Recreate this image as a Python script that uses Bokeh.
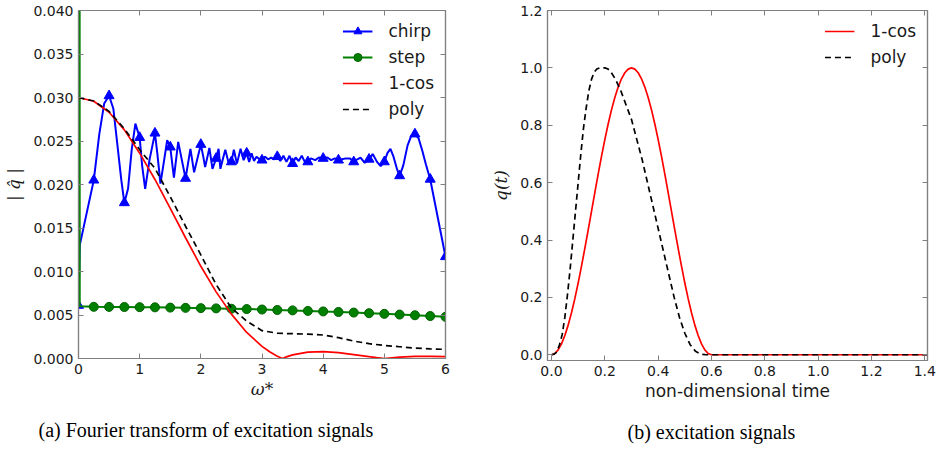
from bokeh.plotting import figure
from bokeh.layouts import row
from bokeh.models import (Range1d, LinearAxis, FixedTicker, NumeralTickFormatter,
                          Legend, LegendItem, Title, ColumnDataSource, CustomJSTickFormatter)
from bokeh.embed import file_html
from bokeh.resources import INLINE

# ---------------- data: (a) Fourier transform of excitation signals ----------------
chirp_w = [0.00, 0.02, 0.25, 0.34, 0.42, 0.50, 0.57, 0.64, 0.70, 0.75, 0.81, 0.87, 0.93,
           1.00, 1.04, 1.09, 1.16, 1.25, 1.29, 1.34, 1.40, 1.45, 1.50, 1.56, 1.63, 1.69,
           1.75, 1.83, 1.89, 2.00, 2.04, 2.07, 2.14, 2.19, 2.25, 2.29, 2.32, 2.37, 2.40,
           2.45, 2.50, 2.54, 2.59, 2.65, 2.70, 2.75, 2.79, 2.83, 2.87, 2.91, 2.96, 3.00,
           3.05, 3.10, 3.15, 3.20, 3.25, 3.30, 3.35, 3.40, 3.45, 3.50, 3.55, 3.60, 3.65,
           3.70, 3.75, 3.80, 3.87, 3.93, 4.00, 4.07, 4.13, 4.19, 4.25, 4.31, 4.37, 4.44,
           4.50, 4.56, 4.61, 4.68, 4.75, 4.81, 4.88, 4.94, 5.00, 5.05, 5.10, 5.15, 5.21,
           5.25, 5.31, 5.38, 5.44, 5.50, 5.56, 5.62, 5.68, 5.75, 6.00]
chirp_v = [0.0061, 0.0130, 0.0205, 0.0258, 0.0293, 0.0302, 0.0287, 0.0243, 0.0205, 0.0179,
           0.0195, 0.0240, 0.0270, 0.0254, 0.0222, 0.0195, 0.0228, 0.0259, 0.0235, 0.0201,
           0.0228, 0.0251, 0.0243, 0.0208, 0.0249, 0.0228, 0.0207, 0.0241, 0.0214, 0.0246,
           0.0232, 0.0220, 0.0242, 0.0218, 0.0230, 0.0241, 0.0218, 0.0232, 0.0240, 0.0226,
           0.0226, 0.0240, 0.0224, 0.0241, 0.0228, 0.0236, 0.0226, 0.0236, 0.0227, 0.0232,
           0.0229, 0.0228, 0.0232, 0.0229, 0.0231, 0.0229, 0.0232, 0.0227, 0.0233, 0.0226,
           0.0233, 0.0224, 0.0231, 0.0227, 0.0233, 0.0226, 0.0226, 0.0230, 0.0228, 0.0231,
           0.0230, 0.0231, 0.0228, 0.0230, 0.0228, 0.0229, 0.0230, 0.0230, 0.0226, 0.0229,
           0.0231, 0.0225, 0.0229, 0.0235, 0.0226, 0.0221, 0.0226, 0.0236, 0.0241, 0.0232,
           0.0217, 0.0210, 0.0222, 0.0245, 0.0256, 0.0258, 0.0253, 0.0239, 0.0223, 0.0206,
           0.0117]

step_w = [0.0, 0.02, 0.25, 0.50, 0.75, 1.00, 1.25, 1.50, 1.75, 2.00, 2.25, 2.50, 2.75, 3.00,
          3.25, 3.50, 3.75, 4.00, 4.25, 4.50, 4.75, 5.00, 5.25, 5.50, 5.75, 6.00]
step_v = [0.5, 0.00600, 0.00594, 0.00593, 0.00592, 0.00590, 0.00588, 0.00585, 0.00582,
          0.00579, 0.00576, 0.00572, 0.00568, 0.00563, 0.00558, 0.00553, 0.00547, 0.00541,
          0.00535, 0.00528, 0.00521, 0.00513, 0.00505, 0.00497, 0.00488, 0.00479]

cos_w = [0.0, 0.25, 0.5, 0.75, 1.0, 1.25, 1.5, 1.75, 2.0, 2.25, 2.5, 2.75, 3.0, 3.125, 3.25,
         3.333, 3.4, 3.5, 3.75, 4.0, 4.25, 4.5, 4.75, 4.875, 5.0, 5.125, 5.25, 5.5, 5.75, 6.0]
cos_v = [0.0300, 0.02957, 0.0283, 0.02628, 0.0236, 0.02058, 0.01726, 0.01388, 0.0106,
         0.00766, 0.0051, 0.00299, 0.00139, 0.00077, 0.00027, 0.0, 0.000185, 0.00041,
         0.00074, 0.00079, 0.00067, 0.00045, 0.00021, 0.0001, 0.0, 0.000086, 0.000154,
         0.00024, 0.00025, 0.00021]

poly_w = [0.0, 0.25, 0.5, 0.75, 1.0, 1.25, 1.5, 1.75, 2.0, 2.25, 2.5, 2.75, 3.0, 3.25, 3.5,
          3.75, 4.0, 4.25, 4.5, 4.75, 5.0, 5.25, 5.5, 5.75, 6.0]
poly_v = [0.0300, 0.0296, 0.0284, 0.0264, 0.0240, 0.02185, 0.0186, 0.0152, 0.0119, 0.0085,
          0.0058, 0.0043, 0.0032, 0.0029, 0.00285, 0.0028, 0.0027, 0.0024, 0.0020, 0.0017,
          0.0015, 0.00135, 0.0012, 0.0011, 0.00105]

# ---------------- data: (b) excitation signals ----------------
t_cos = [0.0, 0.0125, 0.025, 0.0375, 0.05, 0.0625, 0.075, 0.0875, 0.1, 0.1125, 0.125,
         0.1375, 0.15, 0.1625, 0.175, 0.1875, 0.2, 0.2125, 0.225, 0.2375, 0.25, 0.2625,
         0.275, 0.2875, 0.3, 0.3125, 0.325, 0.3375, 0.35, 0.3625, 0.375, 0.3875, 0.4,
         0.4125, 0.425, 0.4375, 0.45, 0.4625, 0.475, 0.4875, 0.5, 0.5125, 0.525, 0.5375,
         0.55, 0.5625, 0.575, 0.5875, 0.6, 1.41]
q_cos = [0.0, 0.0043, 0.0170, 0.0381, 0.0670, 0.1033, 0.1465, 0.1956, 0.25, 0.3087, 0.3706,
         0.4347, 0.5, 0.5653, 0.6294, 0.6913, 0.75, 0.8044, 0.8536, 0.8967, 0.9330, 0.9619,
         0.9830, 0.9957, 1.0, 0.9957, 0.9830, 0.9619, 0.9330, 0.8967, 0.8536, 0.8044, 0.75,
         0.6913, 0.6294, 0.5653, 0.5, 0.4347, 0.3706, 0.3087, 0.25, 0.1956, 0.1465, 0.1033,
         0.0670, 0.0381, 0.0170, 0.0043, 0.0, 0.0]

t_poly = [0.0, 0.01, 0.02, 0.03, 0.04, 0.05, 0.06, 0.07, 0.08, 0.09, 0.10, 0.11, 0.12, 0.13,
          0.14, 0.15, 0.16, 0.17, 0.18, 0.19, 0.20, 0.21, 0.22, 0.24, 0.26, 0.28, 0.30, 0.32,
          0.34, 0.36, 0.38, 0.40, 0.42, 0.44, 0.46, 0.48, 0.50, 0.52, 0.54, 0.56, 0.58, 1.41]
q_poly = [0.0, 0.002, 0.01, 0.035, 0.07, 0.13, 0.21, 0.30, 0.40, 0.50, 0.60, 0.70, 0.79,
          0.86, 0.92, 0.96, 0.985, 0.996, 1.0, 1.0, 1.0, 0.997, 0.99, 0.96, 0.92, 0.87, 0.82,
          0.75, 0.68, 0.60, 0.52, 0.44, 0.36, 0.28, 0.20, 0.13, 0.075, 0.035, 0.012, 0.002,
          0.0, 0.0]

# tick positions / labels
a_xticks = [0, 1, 2, 3, 4, 5, 6]
a_yticks = [0.0, 0.005, 0.010, 0.015, 0.020, 0.025, 0.030, 0.035, 0.040]
b_xticks = [0.0, 0.2, 0.4, 0.6, 0.8, 1.0, 1.2, 1.4]
b_yticks = [0.0, 0.2, 0.4, 0.6, 0.8, 1.0, 1.2]

FRAME = "#808080"
TXT = "#1a1a1a"


def add_axes(p, xticks, yticks, xfmt, yfmt, xlabel, ylabel):
    common = dict(axis_line_color=FRAME, axis_line_width=1.2,
                  major_tick_line_color=FRAME, major_tick_in=5, major_tick_out=0,
                  minor_tick_line_color=None)
    lab = dict(major_label_text_font="DejaVu Sans", major_label_text_font_size="14px",
               major_label_text_color=TXT)
    xb = LinearAxis(ticker=FixedTicker(ticks=xticks), formatter=NumeralTickFormatter(format=xfmt),
                    axis_label=xlabel[0], axis_label_text_font=xlabel[1],
                    axis_label_text_font_style=xlabel[2], axis_label_text_font_size="17px",
                    axis_label_text_color=TXT, major_label_standoff=5, axis_label_standoff=2,
                    **common, **lab)
    yl = LinearAxis(ticker=FixedTicker(ticks=yticks), formatter=NumeralTickFormatter(format=yfmt),
                    axis_label=ylabel[0], axis_label_text_font=ylabel[1],
                    axis_label_text_font_style=ylabel[2], axis_label_text_font_size="17px",
                    axis_label_text_color=TXT, major_label_standoff=5, axis_label_standoff=6,
                    **common, **lab)
    blank = CustomJSTickFormatter(code="return ''")
    xt = LinearAxis(ticker=FixedTicker(ticks=xticks), formatter=blank, major_label_standoff=0,
                    major_label_text_font_size="1px", **common)
    yr = LinearAxis(ticker=FixedTicker(ticks=yticks), formatter=blank, major_label_standoff=0,
                    major_label_text_font_size="1px", **common)
    p.add_layout(xb, "below")
    p.add_layout(yl, "left")
    p.add_layout(xt, "above")
    p.add_layout(yr, "right")


def base(xr, yr, fw, fh, mbl, mbr, mbb):
    p = figure(x_range=Range1d(*xr), y_range=Range1d(*yr), frame_width=fw, frame_height=fh,
               min_border_left=mbl, min_border_right=mbr, min_border_top=10,
               min_border_bottom=mbb, output_backend="svg", toolbar_location=None,
               x_axis_type=None, y_axis_type=None)
    p.xgrid.visible = False
    p.ygrid.visible = False
    p.outline_line_color = FRAME
    p.outline_line_width = 1.2
    p.background_fill_color = "white"
    p.border_fill_color = "white"
    return p


def legend(items, pad):
    return Legend(items=items, location="top_right", border_line_color=None,
                  background_fill_alpha=0, label_text_font="DejaVu Sans",
                  label_text_font_size="17px", label_text_color=TXT, glyph_width=30,
                  glyph_height=20, spacing=6, label_standoff=16, padding=pad, margin=11)


# ---------------- panel (a) ----------------
pa = base((0, 6), (0, 0.04), 367, 348, 78, 25, 92)
add_axes(pa, a_xticks, a_yticks, "0", "0.000",
         ("ω*", "DejaVu Serif", "italic"), ("| q̂ |", "DejaVu Serif", "italic"))

chirp_src = ColumnDataSource(dict(w=chirp_w, v=chirp_v))
chirp_mk = [i for i, w in enumerate(chirp_w) if abs(w * 4 - round(w * 4)) < 1e-9]
chirp_msrc = ColumnDataSource(dict(w=[chirp_w[i] for i in chirp_mk], v=[chirp_v[i] for i in chirp_mk]))
r_chirp = pa.line("w", "v", source=chirp_src, line_color="#0000ff", line_width=2)
r_chirp_m = pa.scatter("w", "v", source=chirp_msrc, marker="triangle", size=10,
                       fill_color="#0000ff", line_color="#0000ff")

step_src = ColumnDataSource(dict(w=step_w, v=step_v))
step_msrc = ColumnDataSource(dict(w=step_w[2:], v=step_v[2:]))
r_step = pa.line("w", "v", source=step_src, line_color="#008000", line_width=2)
r_step_m = pa.scatter("w", "v", source=step_msrc, marker="circle", size=9,
                      fill_color="#008000", line_color="#006000")

r_cos = pa.line(cos_w, cos_v, line_color="#ff0000", line_width=1.7)
r_poly = pa.line(poly_w, poly_v, line_color="black", line_width=1.7, line_dash="6 4")

pa.add_layout(legend([LegendItem(label="chirp", renderers=[r_chirp, r_chirp_m]),
                      LegendItem(label="step", renderers=[r_step, r_step_m]),
                      LegendItem(label="1-cos", renderers=[r_cos]),
                      LegendItem(label="poly", renderers=[r_poly])], 7))
pa.add_layout(Title(text="(a)  Fourier transform of excitation signals", align="left",
                    text_font="Liberation Serif", text_font_size="20px",
                    text_font_style="normal", text_color="black", offset=-40,
                    standoff=30), "below")

# ---------------- panel (b) ----------------
pb = base((-0.015, 1.41), (-0.02, 1.2), 380, 350, 77, 10, 90)
add_axes(pb, b_xticks, b_yticks, "0.0", "0.0",
         ("non-dimensional time", "DejaVu Sans", "normal"), ("q(t)", "DejaVu Serif", "italic"))
r_bcos = pb.line(t_cos, q_cos, line_color="#ff0000", line_width=1.7)
r_bpoly = pb.line(t_poly, q_poly, line_color="black", line_width=1.7, line_dash="6 4")
pb.add_layout(legend([LegendItem(label="1-cos", renderers=[r_bcos]),
                      LegendItem(label="poly", renderers=[r_bpoly])], 4))
pb.add_layout(Title(text="(b)  excitation signals", align="left",
                    text_font="Liberation Serif", text_font_size="20px",
                    text_font_style="normal", text_color="black", offset=80,
                    standoff=30), "below")

layout = row(pa, pb)
open("out.html", "w").write(file_html(layout, INLINE))
